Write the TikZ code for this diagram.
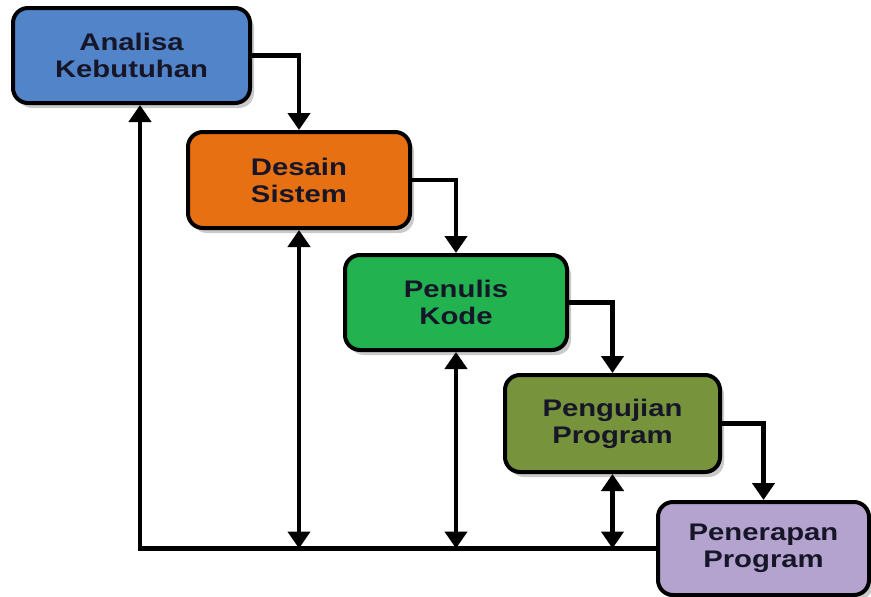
\documentclass[tikz,border=0pt]{standalone}
\usepackage{fontspec}
\setmainfont{Liberation Sans}[FakeStretch=1.22]
\usepackage{tikz}
\usetikzlibrary{positioning,arrows.meta}
\usetikzlibrary{shadows}

\definecolor{boxblue}{RGB}{82,132,202}
\definecolor{boxorange}{RGB}{230,112,18}
\definecolor{boxgreen}{RGB}{34,178,80}
\definecolor{boxolive}{RGB}{119,148,60}
\definecolor{boxpurple}{RGB}{180,163,206}
\definecolor{textdark}{RGB}{22,22,40}

\tikzset{
  phase/.style={draw=black, line width=4pt, rounded corners=15pt,
    align=center, text=textdark,
    font=\fontsize{24}{27}\selectfont\bfseries,
    drop shadow={shadow xshift=4pt, shadow yshift=-5pt, fill=gray!70, opacity=0.6}},
  flow/.style={line width=4.5pt, -{Triangle[width=22pt,length=17pt]}},
  feedback/.style={line width=4.5pt,
    {Triangle[width=22pt,length=17pt]}-{Triangle[width=22pt,length=17pt]}}
}

\begin{document}
\begin{tikzpicture}[x=1pt,y=1pt]
  \useasboundingbox (0,0) rectangle (871,-597);

  % phases
  \node[phase, fill=boxblue, minimum width=237pt, minimum height=95pt]
    (analisa) at (131.5,-55.5) {Analisa\\Kebutuhan};
  \node[phase, fill=boxorange, minimum width=222pt, minimum height=96pt]
    (desain) at (299,-180) {Desain\\Sistem};
  \node[phase, fill=boxgreen, minimum width=222pt, minimum height=95pt]
    (penulis) at (456,-302.5) {Penulis\\Kode};
  \node[phase, fill=boxolive, minimum width=215pt, minimum height=97pt]
    (pengujian) at (612.5,-423.5) {Pengujian\\Program};
  \node[phase, fill=boxpurple, minimum width=211pt, minimum height=93pt]
    (penerapan) at (763.5,-548.5) {Penerapan\\Program};

  % corner of the return line
  \coordinate (corner) at (140,-548.5);

  % forward steps
  \draw[flow] (analisa.east) -| (desain.north);
  \draw[flow] (desain.east) -| (penulis.north);
  \draw[flow] (penulis.east) -| (pengujian.north);
  \draw[flow] (pengujian.east) -| (penerapan.north);

  % return line
  \draw[flow, line join=miter] (penerapan.west) -- (corner) -- (analisa.south -| corner);
  \draw[feedback] (desain.south) -- (desain.south |- corner);
  \draw[feedback] (penulis.south) -- (penulis.south |- corner);
  \draw[feedback] (pengujian.south) -- (pengujian.south |- corner);
\end{tikzpicture}
\end{document}
